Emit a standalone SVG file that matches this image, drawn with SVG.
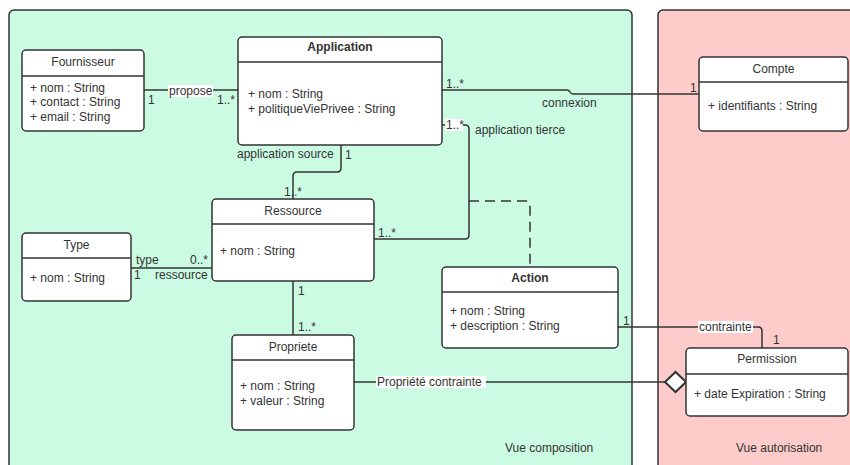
<svg xmlns="http://www.w3.org/2000/svg" width="850" height="465" viewBox="0 0 850 465">
<style>
text{font-family:"Liberation Sans",Arial,sans-serif;font-size:12px;fill:#333}
.t{text-anchor:middle}
.b{font-weight:bold}
.box{fill:#fff;stroke:#333;stroke-width:1.5}
.sep{stroke:#333;stroke-width:1.5}
.ln{fill:none;stroke:#333;stroke-width:1.5}
.dash{fill:none;stroke:#333;stroke-width:1.5;stroke-dasharray:10 6}
.lbg{fill:#fff}
.panel{stroke:#333;stroke-width:1.5}
</style>
<rect x="0" y="0" width="850" height="465" fill="#fff"/>
<g id="vue-composition">
<rect class="panel" x="9" y="10" width="623" height="470" rx="5" fill="#ccfbe3"/>
<text x="505" y="452">Vue composition</text>
</g>
<g id="vue-autorisation">
<rect class="panel" x="658" y="10" width="210" height="470" rx="5" fill="#fdcbc9"/>
<text x="736" y="452">Vue autorisation</text>
</g>
<g id="connectors">
<path class="ln" d="M144 90 H238"/>
<path class="ln" d="M442 90 H567 Q569 90 570 92 Q571 94 573 94 H699"/>
<path class="ln" d="M442 125 H465 Q469 125 469 129 V235 Q469 239 465 239 H374"/>
<path class="ln" d="M341 145 V168 Q341 172 337 172 H297 Q293 172 293 176 V199"/>
<path class="dash" d="M469 201 H526 Q530 201 530 205 V267"/>
<path class="ln" d="M131 268 H212"/>
<path class="ln" d="M293 281 V335"/>
<path class="ln" d="M618 327 H758 Q762 327 762 331 V348"/>
<path class="ln" d="M354 382 H665"/>
<polygon points="665,382 675.5,372 686,382 675.5,392" fill="#fff" stroke="#333" stroke-width="2"/>
<rect class="lbg" x="168" y="85" width="45" height="12"/>
<text x="169" y="95">propose</text>
<text x="148" y="104">1</text>
<text x="217" y="104">1..*</text>
<text x="446" y="88">1..*</text>
<text x="542" y="107">connexion</text>
<text x="690" y="92">1</text>
<rect class="lbg" x="445" y="119" width="18" height="12"/>
<text x="446" y="129">1..*</text>
<text x="475" y="134">application tierce</text>
<text x="378" y="237">1..*</text>
<text x="237" y="158">application source</text>
<text x="345" y="159">1</text>
<text x="284" y="196">1..*</text>
<text x="136" y="264">type</text>
<text x="190" y="264">0..*</text>
<text x="134" y="279">1</text>
<text x="155" y="279">ressource</text>
<text x="298" y="295">1</text>
<text x="298" y="331">1..*</text>
<rect class="lbg" x="376" y="376" width="110" height="12"/>
<text x="377" y="386">Propriété contrainte</text>
<text x="623" y="325">1</text>
<rect class="lbg" x="698" y="321" width="55" height="12"/>
<text x="699" y="331">contrainte</text>
<text x="773" y="344">1</text>
</g>
<g id="fournisseur">
<rect class="box" x="22" y="50" width="122" height="81" rx="4"/>
<line class="sep" x1="22" y1="76" x2="144" y2="76"/>
<text class="t" x="83" y="66">Fournisseur</text>
<text x="30" y="92">+ nom : String</text>
<text x="30" y="106">+ contact : String</text>
<text x="30" y="121">+ email : String</text>
</g>
<g id="application">
<rect class="box" x="238" y="37" width="204" height="108" rx="4"/>
<line class="sep" x1="238" y1="62" x2="442" y2="62"/>
<text class="t b" x="340" y="51">Application</text>
<text x="248" y="98">+ nom : String</text>
<text x="248" y="113">+ politiqueViePrivee : String</text>
</g>
<g id="compte">
<rect class="box" x="699" y="57" width="149" height="74" rx="4"/>
<line class="sep" x1="699" y1="82" x2="848" y2="82"/>
<text class="t" x="773.5" y="73">Compte</text>
<text x="708" y="110">+ identifiants : String</text>
</g>
<g id="ressource">
<rect class="box" x="212" y="199" width="162" height="82" rx="4"/>
<line class="sep" x1="212" y1="224" x2="374" y2="224"/>
<text class="t" x="293" y="215">Ressource</text>
<text x="220" y="255">+ nom : String</text>
</g>
<g id="type">
<rect class="box" x="22" y="233" width="109" height="68" rx="4"/>
<line class="sep" x1="22" y1="258" x2="131" y2="258"/>
<text class="t" x="76.5" y="249">Type</text>
<text x="30" y="282">+ nom : String</text>
</g>
<g id="action">
<rect class="box" x="442" y="267" width="176" height="81" rx="4"/>
<line class="sep" x1="442" y1="292" x2="618" y2="292"/>
<text class="t b" x="530" y="282">Action</text>
<text x="450" y="315">+ nom : String</text>
<text x="450" y="330">+ description : String</text>
</g>
<g id="propriete">
<rect class="box" x="232" y="335" width="122" height="95" rx="4"/>
<line class="sep" x1="232" y1="360" x2="354" y2="360"/>
<text class="t" x="293" y="351">Propriete</text>
<text x="240" y="390">+ nom : String</text>
<text x="240" y="405">+ valeur : String</text>
</g>
<g id="permission">
<rect class="box" x="686" y="348" width="162" height="68" rx="4"/>
<line class="sep" x1="686" y1="374" x2="848" y2="374"/>
<text class="t" x="767" y="363">Permission</text>
<text x="694" y="398">+ date Expiration : String</text>
</g>
</svg>
